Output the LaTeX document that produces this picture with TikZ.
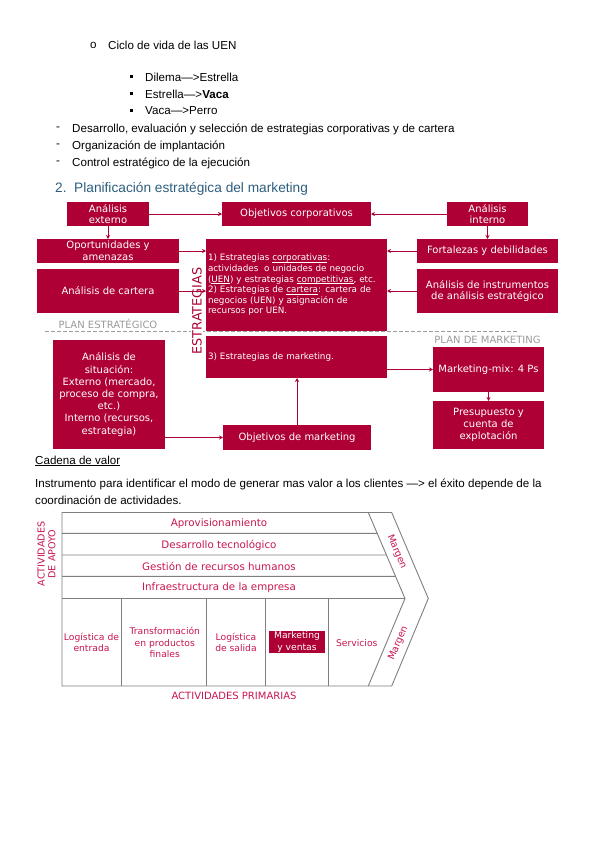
\documentclass[tikz,border=0pt]{standalone}
\usepackage{fontspec}
\setmainfont{Liberation Sans}
\newfontfamily\boxfont{DejaVu Sans}
\usetikzlibrary{arrows.meta,calc}
\definecolor{crimson}{HTML}{AE0034}
\definecolor{chainred}{HTML}{C8174E}
\definecolor{headblue}{HTML}{2E5E7E}
\definecolor{planGrey}{HTML}{9A9A9A}
\definecolor{chainGrey}{HTML}{7F7F7F}
\newcommand{\ulword}[1]{\underline{\smash{#1}}}

\begin{document}
\begin{tikzpicture}[x=1pt, y=-1pt,
  body/.style={anchor=west, inner sep=0pt, font=\fontsize{11.6}{13}\selectfont},
  box/.style={fill=crimson, text=white, align=center, inner sep=1pt, outer sep=0pt, font=\boxfont\fontsize{10}{11.7}\selectfont},
  small/.style={font=\boxfont\fontsize{8.8}{10.6}\selectfont, text width=177pt, align=left, inner xsep=2pt},
  arr/.style={-{Stealth[length=4pt, width=4pt]}, draw=crimson, line width=0.8pt},
  plan/.style={text=planGrey, inner sep=0pt, font=\boxfont\fontsize{10}{12}\selectfont},
  chain/.style={text=chainred, align=center, inner sep=0pt, font=\boxfont\fontsize{9.2}{11.5}\selectfont},
  support/.style={chain, font=\boxfont\fontsize{10.3}{12}\selectfont},
  chainline/.style={draw=chainGrey, line width=0.9pt}]
\fill[white] (0,0) rectangle (599,848);
\useasboundingbox (0,0) rectangle (599,848);

% notes above the diagram
\node[body] (cicloMark) at (90,45) {o};
\node[body] (ciclo) at (108,45) {Ciclo de vida de las UEN};
\foreach \i/\y/\t in {1/77/{Dilema—>Estrella}, 2/94/{Estrella—>\textbf{Vaca}}, 3/111/{Vaca—>Perro}} {
  \node[fill=black, minimum size=3pt, inner sep=0pt] (sq\i) at (131,\y) {};
  \node[body] (fase\i) at (145,\y) {\t};
}
\foreach \i/\y/\t in {1/129/{Desarrollo, evaluación y selección de estrategias corporativas y de cartera}, 2/146/{Organización de implantación}, 3/163/{Control estratégico de la ejecución}} {
  \node[body] (guion\i) at (56,\y) {-};
  \node[body] (paso\i) at (72,\y) {\t};
}
\node[body, text=headblue, font=\fontsize{13.7}{16}\selectfont] (titulo) at (55,189) {2.\ \ Planificación estratégica del marketing};

% planificacion estrategica
\coordinate (planL) at (45,331.5);
\coordinate (planR) at (518,331.5);
\draw[planGrey, line width=1.1pt, dash pattern=on 4pt off 2pt] (planL) -- (planR);
\node[plan] (planE) at (108,324) {PLAN ESTRATÉGICO};
\node[plan] (planM) at (487.5,340) {PLAN DE MARKETING};

\node[box, minimum width=82pt, minimum height=24pt] (extA) at (108,214) {Análisis\\externo};
\node[box, minimum width=149pt, minimum height=24pt] (objC) at (296.5,214) {Objetivos corporativos};
\node[box, minimum width=81pt, minimum height=24pt] (intA) at (487.5,214) {Análisis\\interno};
\node[box, minimum width=142pt, minimum height=24pt] (opor) at (108,251) {Oportunidades y\\amenazas};
\node[box, minimum width=142pt, minimum height=44pt] (cart) at (108,291) {Análisis de cartera};
\node[box, small, minimum width=181pt, minimum height=92pt] (estr) at (296.5,285) {1) Estrategias \ulword{corporativas}:\\actividades\ \ o unidades de negocio\\(\ulword{UEN}) y estrategias \ulword{competitivas}, etc.\\2) Estrategias de \ulword{cartera}: cartera de\\negocios (UEN) y asignación de\\recursos por UEN.};
\node[box, minimum width=141pt, minimum height=24pt] (fort) at (487.5,251) {Fortalezas y debilidades};
\node[box, minimum width=141pt, minimum height=44pt] (inst) at (487.5,291) {Análisis de instrumentos\\de análisis estratégico};
\node[text=crimson, fill=white, rotate=90, inner sep=1pt, font=\boxfont\fontsize{12.8}{14}\selectfont] (estrLbl) at (197,311) {ESTRATEGIAS};

% plan de marketing
\node[box, small, minimum width=181pt, minimum height=42pt] (mkt3) at (296.5,357) {3) Estrategias de marketing.};
\node[box, minimum width=112pt, minimum height=109pt, font=\boxfont\fontsize{10}{12.2}\selectfont] (sit) at (109,394.5) {Análisis de\\situación:\\Externo (mercado,\\proceso de compra,\\etc.)\\Interno (recursos,\\estrategia)};
\node[box, minimum width=148pt, minimum height=25pt] (objM) at (297,437.5) {Objetivos de marketing};
\node[box, minimum width=111pt, minimum height=45pt] (mix) at (488.5,369.5) {Marketing-mix: 4 Ps};
\node[box, minimum width=111pt, minimum height=48pt, font=\boxfont\fontsize{10}{12}\selectfont] (pres) at (488.5,425) {Presupuesto y\\cuenta de\\explotación};

\draw[arr] (extA) -- (objC);
\draw[arr] (intA) -- (objC);
\draw[arr] (extA) -- (opor);
\draw[arr] (intA) -- (fort);
\draw[arr] (opor.east) -- (opor.east -| estr.west);
\draw[arr] (cart.east) -- (cart.east -| estr.west);
\draw[arr] (fort.west) -- (fort.west -| estr.east);
\draw[arr] (inst.west) -- (inst.west -| estr.east);
\draw[arr] (objM.west -| sit.east) -- (objM.west);
\draw[arr] (objM) -- (objM.north |- mkt3.south);
\draw[arr] (mix.west -| mkt3.east) -- (mix.west);
\draw[arr] (mix) -- (pres);

% cadena de valor
\node[body] (cadena) at (35,461) {\underline{Cadena de valor}};
\node[body] (instr1) at (35,484) {Instrumento para identificar el modo de generar mas valor a los clientes —> el éxito depende de la};
\node[body] (instr2) at (35,500) {coordinación de actividades.};

\coordinate (inTop) at (368.3,512.5);
\coordinate (inTip) at (405,598.5);
\coordinate (inBot) at (368.3,686);
\draw[chainline] (62,512.5) -- (391.7,512.5) -- (428.3,598.5) -- (391.7,686) -- (62,686) -- cycle;
\draw[chainline] (inTop) -- (inTip) -- (inBot);
\foreach \ry in {533.3,555,576.3}
  \draw[chainline] (62,\ry) -- ($(inTop)!{(\ry-512.5)/86}!(inTip)$);
\draw[chainline] (62,598.5) -- (inTip);
\foreach \cx in {121.7,206.7,265.3,328.7}
  \draw[chainline] (\cx,598.5) -- (\cx,686);

\node[support] (aprov) at (219,523.3) {Aprovisionamiento};
\node[support] (desa) at (219,545.3) {Desarrollo tecnológico};
\node[support] (rrhh) at (219,566.7) {Gestión de recursos humanos};
\node[support] (infra) at (219,587.7) {Infraestructura de la empresa};
\node[chain] (logE) at (91.5,642.5) {Logística de\\entrada};
\node[chain] (trans) at (164.8,642.5) {Transformación\\en productos\\finales};
\node[chain] (logS) at (236,642.5) {Logística\\de salida};
\node[chain, fill=crimson, text=white, minimum width=55.7pt, minimum height=22.6pt] (mkv) at (297,642) {Marketing\\y ventas};
\node[chain] (serv) at (356.8,642.7) {Servicios};
\node[chain, rotate=-67, font=\boxfont\fontsize{9.6}{11}\selectfont] (margenA) at (396.7,551.7) {Margen};
\node[chain, rotate=67, font=\boxfont\fontsize{9.6}{11}\selectfont] (margenB) at (398.3,643.3) {Margen};
\node[chain, rotate=90, font=\boxfont\fontsize{9.6}{10.7}\selectfont] (apoyo) at (46.5,554) {ACTIVIDADES\\DE APOYO};
\node[chain, font=\boxfont\fontsize{10}{12}\selectfont] (prim) at (234,695.7) {ACTIVIDADES PRIMARIAS};
\end{tikzpicture}
\end{document}
